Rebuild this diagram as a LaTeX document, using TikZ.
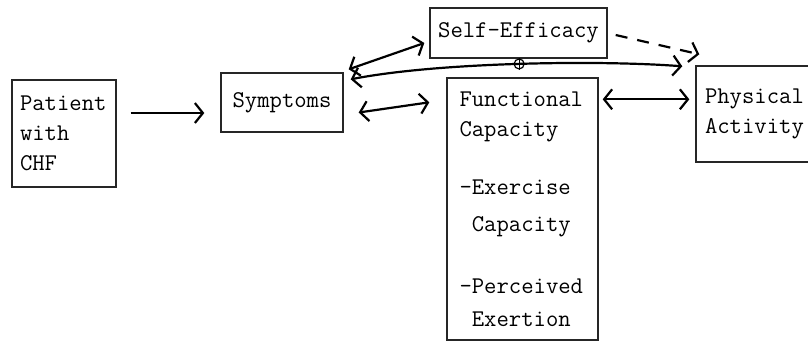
\documentclass[tikz,border=0pt]{standalone}
\usetikzlibrary{arrows.meta}
\tikzset{
  blockbox/.style={draw=black!85,line width=0.7pt,inner sep=0pt,
    font=\ttfamily\fontsize{12}{15}\selectfont},
  onehead/.style={line width=1.1pt,-{Straight Barb[length=4pt,width=10pt]}},
  twohead/.style={line width=1.1pt,
    {Straight Barb[length=4pt,width=10pt]}-{Straight Barb[length=4pt,width=10pt]}},
  junction/.style={draw,circle,line width=0.6pt,minimum size=5pt,inner sep=0pt}
}

\begin{document}
\begin{tikzpicture}[x=0.5pt,y=-0.5pt]
  \useasboundingbox (0,0) rectangle (808,344);
  % boxes
  \node[blockbox,minimum width=52pt,minimum height=53.5pt,inner xsep=4pt,
        text width=44pt,align=left] (pat) at (64,133.5) {Patient\\with\\CHF};
  \node[blockbox,minimum width=61pt,minimum height=29.5pt] (sym) at (282,102.5) {Symptoms};
  \node[blockbox,minimum width=88.5pt,minimum height=25pt] (self) at (518.5,33) {Self-Efficacy};
  \node[blockbox,minimum width=75.5pt,minimum height=131pt,inner xsep=6.25pt,
        text width=63pt,align=left] (func) at (522.5,209)
        {Functional\\Capacity\\[14pt]
         -Exercise\\[3.5pt]\phantom{-}Capacity\\[16pt]
         -Perceived\\[1.5pt]\phantom{-}Exertion};
  \node[blockbox,minimum width=60pt,minimum height=48pt,inner xsep=3pt,
        text width=51pt,align=left] (phys) at (756,114) {Physical\\Activity};

  % links
  \coordinate (psa) at ([xshift=7pt,yshift=10.25pt]pat.east);
  \draw[onehead] (psa) -- ([xshift=-8pt]psa -| sym.west);
  \draw[twohead] ([xshift=2.5pt,yshift=1.5pt]sym.north east)
                 -- ([xshift=-2.5pt,yshift=-5pt]self.west);
  \draw[twohead] ([xshift=3.5pt,yshift=-3.5pt]sym.north east)
                 .. controls (440,62) and (600,60) ..
                 ([xshift=-6.5pt,yshift=-0.5pt]phys.north west)
                 node[junction,pos=0.5] (jn) {};
  \draw[line width=0.5pt] (jn.north) -- (jn.south) (jn.west) -- (jn.east);
  \draw[twohead] ([xshift=7.5pt,yshift=-5pt]sym.east)
                 -- ([xshift=-8.5pt,yshift=-12.5pt]func.north west);
  \coordinate (fpa) at ([xshift=2pt,yshift=-11pt]func.north east);
  \draw[twohead] (fpa) -- ([xshift=-3pt]fpa -| phys.west);
  \draw[onehead,dash pattern=on 6pt off 5pt]
       ([xshift=4pt,yshift=-1pt]self.east) -- ([xshift=2pt,yshift=5.5pt]phys.north west);
\end{tikzpicture}
\end{document}
